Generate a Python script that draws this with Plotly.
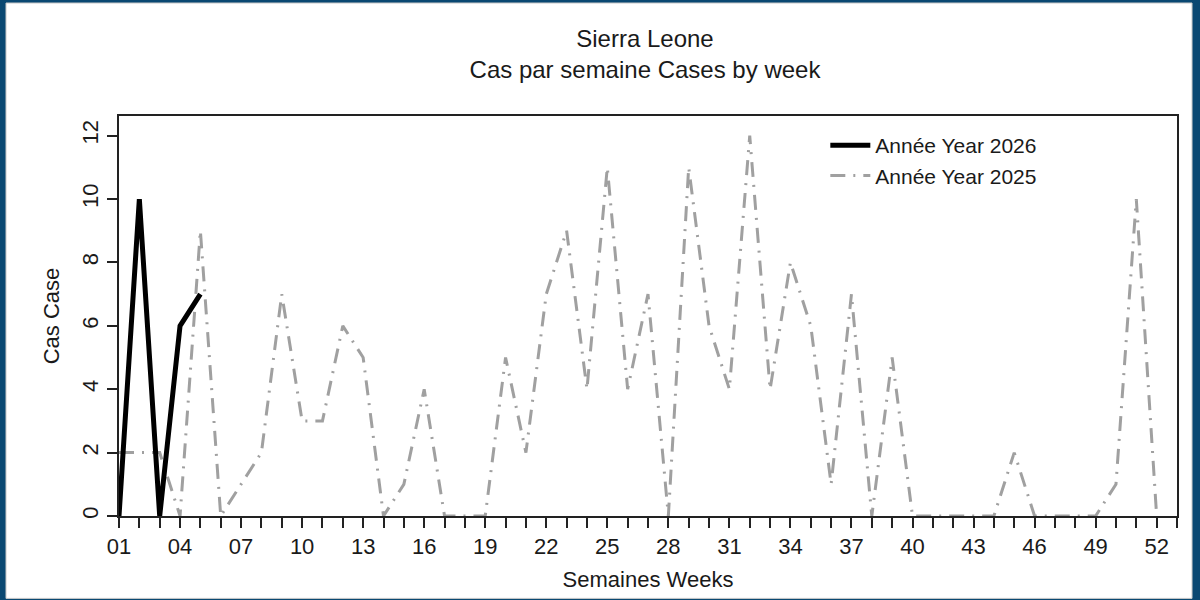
import plotly.graph_objects as go

# weekly case counts, Sierra Leone
weeks_2025 = list(range(1, 53))
cases_2025 = [2, 2, 2, 0, 9, 0, 1, 2, 7, 3,
              3, 6, 5, 0, 1, 4, 0, 0, 0, 5,
              2, 7, 9, 4, 11, 4, 7, 0, 11, 6,
              4, 12, 4, 8, 6, 1, 7, 0, 5, 0,
              0, 0, 0, 0, 2, 0, 0, 0, 0, 1,
              10, 0]

weeks_2026 = [1, 2, 3, 4, 5]
cases_2026 = [0, 10, 0, 6, 7]

tick_weeks = [1, 4, 7, 10, 13, 16, 19, 22, 25, 28, 31, 34, 37, 40, 43, 46, 49, 52]
tick_labels = ["01", "04", "07", "10", "13", "16", "19", "22", "25",
               "28", "31", "34", "37", "40", "43", "46", "49", "52"]
y_ticks = [0, 2, 4, 6, 8, 10, 12]

FONT = "Liberation Sans, Arial, sans-serif"
TXT = "#1a1a1a"

fig = go.Figure()

fig.add_trace(go.Scatter(
    x=weeks_2025, y=cases_2025, mode="lines", name="Année Year 2025",
    line=dict(color="#a0a0a0", width=3, dash="15px,8px,2px,8px"),
    legendrank=2,
))
fig.add_trace(go.Scatter(
    x=weeks_2026, y=cases_2026, mode="lines", name="Année Year 2026",
    line=dict(color="black", width=5),
    legendrank=1,
))

# blue frame around the whole picture
fig.add_shape(type="rect", xref="paper", yref="paper", layer="below",
              x0=-0.1068, x1=1.0142, y0=-0.206, y1=1.2825,
              fillcolor="white", line=dict(color="#c8c8c8", width=1))

fig.update_xaxes(
    range=[1, 53], tickvals=tick_weeks, ticktext=tick_labels,
    ticks="outside", ticklen=10, tickwidth=1.5, tickcolor="#222",
    minor=dict(dtick=1, tick0=1, ticks="outside", ticklen=10, tickwidth=1.5, tickcolor="#222"),
    showline=True, linecolor="#222", linewidth=2, mirror=True,
    showgrid=False, zeroline=False,
    tickfont=dict(family=FONT, size=22, color=TXT),
    title=dict(text="Semaines Weeks", font=dict(family=FONT, size=22, color=TXT), standoff=13),
)
fig.update_yaxes(
    range=[0, 12.62], tickvals=y_ticks, tickangle=-90,
    ticks="outside", ticklen=10, tickwidth=1.5, tickcolor="#222",
    showline=True, linecolor="#222", linewidth=2, mirror=True,
    showgrid=False, zeroline=False,
    tickfont=dict(family=FONT, size=22, color=TXT),
    title=dict(text="Cas Case", font=dict(family=FONT, size=22, color=TXT), standoff=13),
)

fig.update_layout(
    width=1200, height=600,
    margin=dict(l=119, r=23, t=116, b=84, autoexpand=False),
    paper_bgcolor="#0a4872", plot_bgcolor="white",
    title=dict(text="Sierra Leone<br>Cas par semaine Cases by week",
               x=0.5375, xanchor="center", y=0.922, yanchor="top",
               font=dict(family=FONT, size=24, color=TXT)),
    legend=dict(x=0.6676, y=0.9775, xanchor="left", yanchor="top",
                bgcolor="rgba(0,0,0,0)", itemwidth=40,
                font=dict(family=FONT, size=21, color=TXT)),
    showlegend=True,
)

fig.write_html("out.html", config={"displayModeBar": False},
               post_script="document.body.style.margin='0px';")
